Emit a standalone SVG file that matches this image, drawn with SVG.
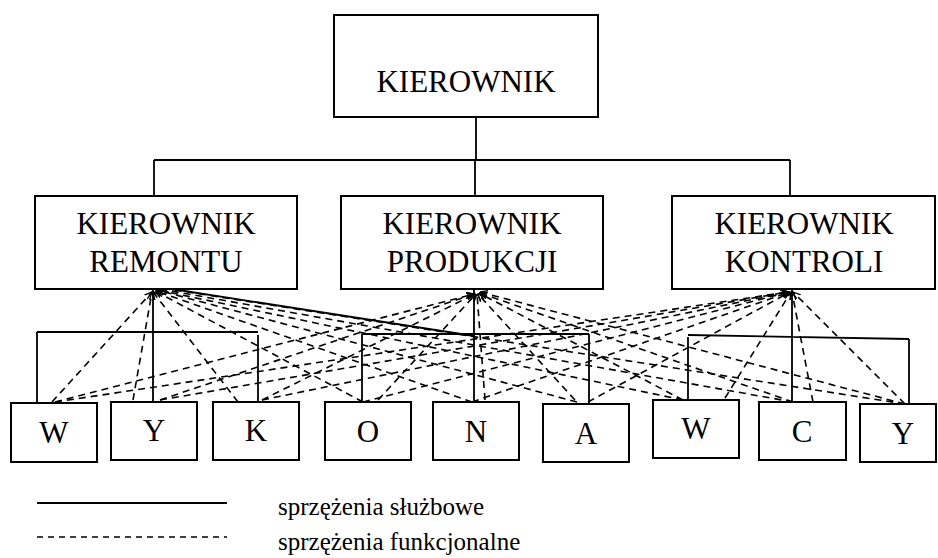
<svg xmlns="http://www.w3.org/2000/svg" width="938" height="558" viewBox="0 0 938 558">
  <style>
    .box { fill: #fff; stroke: #000; stroke-width: 2; }
    .txt { font-family: "Liberation Serif", "Times New Roman", serif; font-size: 31px; fill: #000; text-anchor: middle; }
    .leg { font-family: "Liberation Serif", "Times New Roman", serif; font-size: 25px; fill: #000; }
    .solid { fill: none; stroke: #000; stroke-width: 1.8; }
    .dash { fill: none; stroke: #000; stroke-width: 1.6; stroke-dasharray: 7 5; marker-end: url(#head); }
  </style>
  <defs>
    <marker id="head" viewBox="0 0 8 8" refX="7.5" refY="4" markerWidth="8" markerHeight="8" markerUnits="userSpaceOnUse" orient="auto">
      <path d="M0,0.5 L7.5,4 L0,7.5" fill="none" stroke="#000" stroke-width="1.3"/>
    </marker>
  </defs>
  <rect width="938" height="558" fill="#fff"/>

  <!-- connectors -->
  <g id="connectors">
    <!-- line relations (solid) -->
    <path class="solid" d="M476,117 V160 M154,160 H790 M154,160 V196 M475,160 V196 M790,160 V196"/>
    <path class="solid" d="M153,289 V402 M37,332 H258 M37,332 V403 M258,335 V402"/>
    <path class="solid" d="M474,290 V402 M362,334 H589 M362,334 V402 M589,334 V404"/>
    <path class="solid" d="M792,290 V402 M688,335 L909,339 M688,337 V400 M909,339 V404"/>
    <path class="solid" d="M172,289 L474,336"/>

    <!-- functional relations (dashed), drawn from each worker up to each manager -->
    <g id="to-remontu">
      <line class="dash" x1="52" y1="402" x2="152" y2="292"/>
      <line class="dash" x1="133" y1="400" x2="152" y2="292"/>
      <line class="dash" x1="238" y1="402" x2="153" y2="292"/>
      <line class="dash" x1="363" y1="402" x2="155" y2="291"/>
      <line class="dash" x1="472" y1="402" x2="156" y2="291"/>
      <line class="dash" x1="577" y1="402" x2="157" y2="290"/>
      <line class="dash" x1="683" y1="400" x2="158" y2="290"/>
      <line class="dash" x1="793" y1="402" x2="160" y2="289"/>
      <line class="dash" x1="905" y1="404" x2="162" y2="288"/>
    </g>
    <g id="to-produkcji">
      <line class="dash" x1="55" y1="402" x2="474" y2="294"/>
      <line class="dash" x1="160" y1="400" x2="474" y2="294"/>
      <line class="dash" x1="262" y1="400" x2="475" y2="294"/>
      <line class="dash" x1="378" y1="400" x2="476" y2="294"/>
      <line class="dash" x1="485" y1="400" x2="477" y2="294"/>
      <line class="dash" x1="575" y1="400" x2="478" y2="294"/>
      <line class="dash" x1="683" y1="400" x2="479" y2="293"/>
      <line class="dash" x1="793" y1="402" x2="480" y2="293"/>
      <line class="dash" x1="905" y1="404" x2="480" y2="292"/>
    </g>
    <g id="to-kontroli">
      <line class="dash" x1="55" y1="402" x2="788" y2="292"/>
      <line class="dash" x1="160" y1="400" x2="788" y2="292"/>
      <line class="dash" x1="262" y1="400" x2="789" y2="292"/>
      <line class="dash" x1="363" y1="402" x2="789" y2="292"/>
      <line class="dash" x1="472" y1="402" x2="790" y2="292"/>
      <line class="dash" x1="588" y1="402" x2="790" y2="292"/>
      <line class="dash" x1="725" y1="398" x2="791" y2="292"/>
      <line class="dash" x1="813" y1="402" x2="792" y2="292"/>
      <line class="dash" x1="905" y1="404" x2="793" y2="292"/>
    </g>
  </g>

  <!-- top manager -->
  <g id="kierownik">
    <rect class="box" x="334" y="15" width="264" height="102"/>
    <text class="txt" x="466" y="92">KIEROWNIK</text>
  </g>

  <!-- department managers -->
  <g id="kierownik-remontu">
    <rect class="box" x="35" y="196" width="262" height="93"/>
    <text class="txt" x="166" y="234">KIEROWNIK</text>
    <text class="txt" x="166" y="272">REMONTU</text>
  </g>
  <g id="kierownik-produkcji">
    <rect class="box" x="341" y="196" width="262" height="93"/>
    <text class="txt" x="472" y="234">KIEROWNIK</text>
    <text class="txt" x="472" y="272">PRODUKCJI</text>
  </g>
  <g id="kierownik-kontroli">
    <rect class="box" x="672" y="196" width="263" height="93"/>
    <text class="txt" x="804" y="234">KIEROWNIK</text>
    <text class="txt" x="804" y="272">KONTROLI</text>
  </g>

  <!-- workers -->
  <g id="w1"><rect class="box" x="11" y="403" width="86" height="59"/><text class="txt" x="54" y="443">W</text></g>
  <g id="y1"><rect class="box" x="111" y="402" width="86" height="58"/><text class="txt" x="154" y="441">Y</text></g>
  <g id="k"><rect class="box" x="213" y="402" width="86" height="58"/><text class="txt" x="256" y="441">K</text></g>
  <g id="o"><rect class="box" x="325" y="402" width="86" height="58"/><text class="txt" x="368" y="442">O</text></g>
  <g id="n"><rect class="box" x="433" y="402" width="86" height="58"/><text class="txt" x="476" y="442">N</text></g>
  <g id="a"><rect class="box" x="543" y="404" width="86" height="58"/><text class="txt" x="586" y="444">A</text></g>
  <g id="w2"><rect class="box" x="653" y="400" width="86" height="58"/><text class="txt" x="696" y="439">W</text></g>
  <g id="c"><rect class="box" x="759" y="402" width="87" height="58"/><text class="txt" x="802" y="442">C</text></g>
  <g id="y2"><rect class="box" x="860" y="404" width="76" height="58"/><text class="txt" x="903" y="444">Y</text></g>

  <!-- legend -->
  <g id="legend">
    <line x1="37" y1="503" x2="227" y2="503" stroke="#000" stroke-width="2"/>
    <line x1="37" y1="537" x2="227" y2="537" stroke="#000" stroke-width="1.4" stroke-dasharray="6 5"/>
    <text class="leg" x="278" y="515">sprzężenia służbowe</text>
    <text class="leg" x="278" y="550">sprzężenia funkcjonalne</text>
  </g>
</svg>
